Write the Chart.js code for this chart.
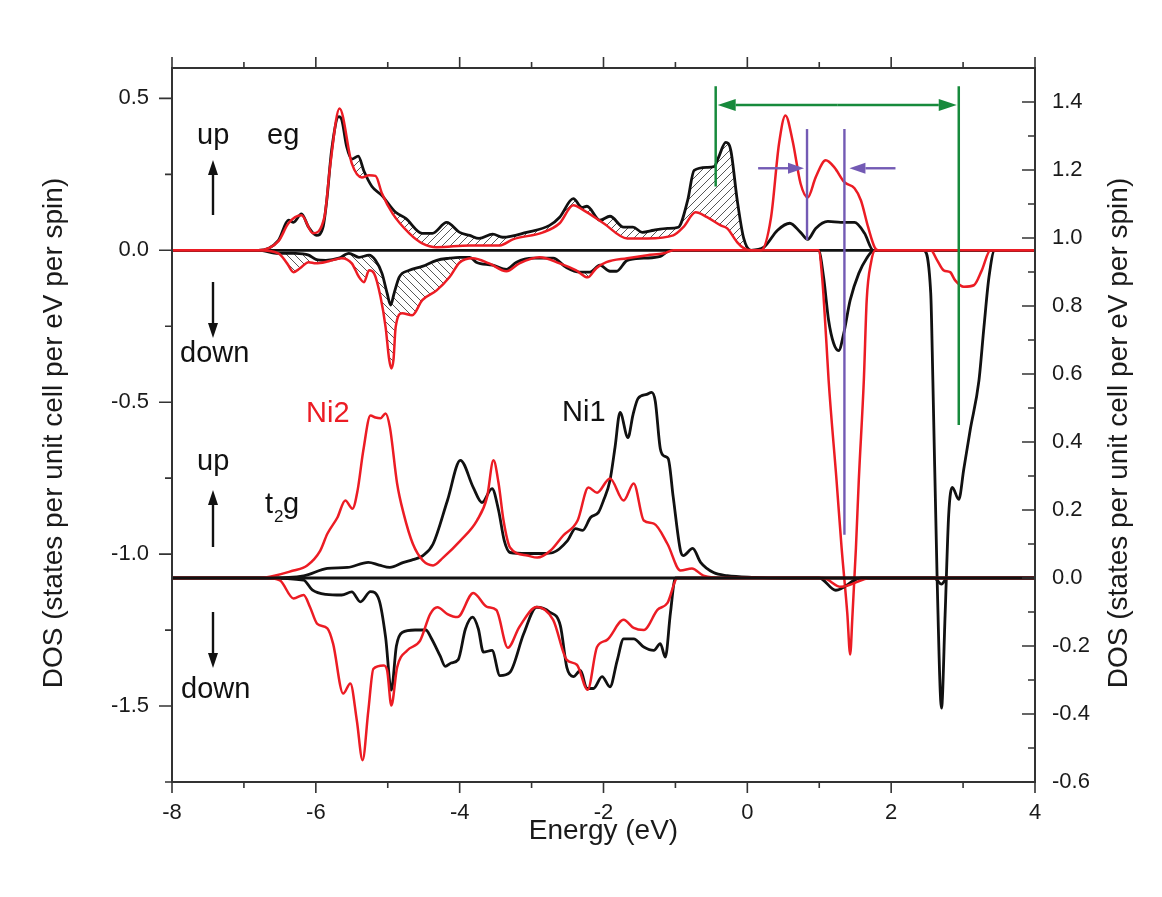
<!DOCTYPE html>
<html lang="en">
<head>
<meta charset="utf-8">
<title>Ni eg / t2g DOS</title>
<script src="https://cdn.jsdelivr.net/npm/chart.js@4.4.1/dist/chart.umd.min.js"></script>
<style>
  html, body { margin: 0; padding: 0; background: #fff; }
  #chartDos { display: block; }
</style>
</head>
<body>
<canvas id="chartDos" width="1162" height="897"></canvas>
<script>
// [energy (eV), DOS] pairs
// eg block -> left axis, t2g block -> right axis
const egUpNi1 = [[-8,0],[-6.8,0],[-6.52,0.033],[-6.38,0.099],[-6.31,0.092],[-6.2,0.12],[-6.1,0.076],[-5.99,0.049],[-5.9,0.076],[-5.85,0.16],[-5.78,0.33],[-5.68,0.44],[-5.64,0.43],[-5.57,0.34],[-5.5,0.30],[-5.41,0.31],[-5.33,0.26],[-5.22,0.21],[-5.08,0.18],[-4.89,0.125],[-4.75,0.105],[-4.52,0.056],[-4.38,0.056],[-4.18,0.092],[-4.0,0.059],[-3.86,0.049],[-3.73,0.039],[-3.54,0.053],[-3.4,0.043],[-3.07,0.059],[-2.75,0.082],[-2.61,0.109],[-2.42,0.17],[-2.3,0.141],[-2.23,0.145],[-2.05,0.099],[-1.91,0.112],[-1.72,0.076],[-1.59,0.076],[-1.46,0.059],[-1.3,0.066],[-1.11,0.072],[-0.96,0.076],[-0.83,0.164],[-0.74,0.263],[-0.56,0.273],[-0.46,0.276],[-0.4,0.306],[-0.3,0.355],[-0.23,0.329],[-0.14,0.164],[-0.05,0.039],[0.05,0],[0.23,0.01],[0.42,0.066],[0.59,0.089],[0.74,0.059],[0.84,0.036],[0.95,0.072],[1.12,0.095],[1.3,0.092],[1.49,0.092],[1.63,0.056],[1.75,0],[4,0]];
const egUpNi2 = [[-8,0],[-6.8,0],[-6.52,0.03],[-6.38,0.089],[-6.2,0.115],[-6.04,0.056],[-5.88,0.11],[-5.8,0.28],[-5.67,0.467],[-5.5,0.286],[-5.36,0.24],[-5.26,0.247],[-5.17,0.245],[-5.08,0.187],[-4.93,0.12],[-4.7,0.056],[-4.52,0.023],[-4.32,0.01],[-3.86,0.016],[-3.44,0.016],[-3.26,0.036],[-2.84,0.059],[-2.61,0.089],[-2.42,0.148],[-2.28,0.132],[-2.0,0.089],[-1.67,0.039],[-1.39,0.039],[-1.03,0.049],[-0.89,0.076],[-0.72,0.125],[-0.56,0.109],[-0.37,0.082],[-0.28,0.072],[-0.14,0.026],[-0.05,0.007],[0.05,0],[0.19,0],[0.33,0.109],[0.44,0.35],[0.53,0.444],[0.63,0.36],[0.74,0.22],[0.84,0.174],[0.95,0.24],[1.09,0.296],[1.21,0.273],[1.35,0.224],[1.49,0.204],[1.58,0.164],[1.68,0.076],[1.77,0.01],[1.82,0],[4,0]];
// spin down, occupied part (hatched between Ni1 and Ni2)
const egDnNi1Occ = [[-8,0],[-6.8,0],[-6.52,-0.01],[-6.28,-0.01],[-6.1,-0.016],[-6.0,-0.03],[-5.86,-0.033],[-5.68,-0.026],[-5.54,-0.01],[-5.4,-0.023],[-5.26,-0.016],[-5.17,-0.033],[-5.08,-0.076],[-5.01,-0.14],[-4.96,-0.18],[-4.91,-0.14],[-4.84,-0.088],[-4.7,-0.066],[-4.52,-0.053],[-4.32,-0.033],[-4.14,-0.026],[-4.0,-0.023],[-3.86,-0.023],[-3.77,-0.039],[-3.54,-0.049],[-3.35,-0.063],[-3.21,-0.039],[-2.98,-0.026],[-2.7,-0.026],[-2.52,-0.056],[-2.33,-0.072],[-2.19,-0.072],[-2.05,-0.049],[-1.91,-0.069],[-1.82,-0.069],[-1.67,-0.033],[-1.44,-0.026],[-1.21,-0.02],[-1.07,0],[0.2,0]];
const egDnNi2Occ = [[-8,0],[-6.8,0],[-6.52,-0.01],[-6.4,-0.043],[-6.31,-0.072],[-6.22,-0.059],[-6.1,-0.039],[-6.0,-0.043],[-5.82,-0.036],[-5.64,-0.026],[-5.5,-0.043],[-5.4,-0.088],[-5.33,-0.105],[-5.26,-0.066],[-5.19,-0.076],[-5.1,-0.154],[-5.03,-0.253],[-4.98,-0.36],[-4.95,-0.389],[-4.92,-0.36],[-4.89,-0.253],[-4.8,-0.207],[-4.66,-0.214],[-4.52,-0.164],[-4.32,-0.132],[-4.14,-0.088],[-4.0,-0.04],[-3.82,-0.026],[-3.59,-0.043],[-3.35,-0.069],[-3.17,-0.043],[-2.89,-0.023],[-2.61,-0.043],[-2.38,-0.066],[-2.22,-0.089],[-2.1,-0.059],[-1.96,-0.039],[-1.67,-0.026],[-1.39,-0.016],[-1.16,-0.01],[-1.03,0],[0.2,0]];
// spin down, empty part
const egDnNi1Emp = [[0.2,0],[0.99,0],[1.06,-0.088],[1.13,-0.23],[1.2,-0.306],[1.27,-0.33],[1.34,-0.274],[1.43,-0.164],[1.55,-0.076],[1.66,-0.026],[1.76,0],[2.45,0],[2.55,-0.14],[2.58,-0.43],[2.64,-1.09],[2.7,-1.507],[2.75,-1.2],[2.8,-0.87],[2.85,-0.78],[2.94,-0.82],[3.01,-0.72],[3.1,-0.59],[3.22,-0.43],[3.29,-0.253],[3.36,-0.088],[3.44,0],[4,0]];
const egDnNi2Emp = [[0.2,0],[0.99,0],[1.04,-0.088],[1.1,-0.306],[1.13,-0.427],[1.24,-0.756],[1.31,-0.977],[1.39,-1.195],[1.43,-1.33],[1.46,-1.21],[1.51,-0.98],[1.55,-0.756],[1.62,-0.427],[1.66,-0.163],[1.72,-0.04],[1.78,0],[2.55,0],[2.64,-0.033],[2.73,-0.066],[2.82,-0.072],[2.89,-0.099],[3.01,-0.12],[3.15,-0.115],[3.26,-0.066],[3.38,0],[4,0]];

const t2gUpNi1 = [[-8,0],[-6.66,0],[-6.17,0.006],[-5.84,0.028],[-5.56,0.031],[-5.27,0.046],[-5.12,0.038],[-4.97,0.031],[-4.78,0.046],[-4.65,0.054],[-4.51,0.066],[-4.37,0.1],[-4.17,0.228],[-3.99,0.346],[-3.81,0.266],[-3.69,0.222],[-3.55,0.263],[-3.46,0.2],[-3.38,0.11],[-3.3,0.075],[-3.06,0.072],[-2.84,0.072],[-2.7,0.075],[-2.5,0.11],[-2.39,0.145],[-2.29,0.14],[-2.18,0.178],[-2.07,0.193],[-2.0,0.228],[-1.91,0.287],[-1.84,0.384],[-1.77,0.487],[-1.66,0.413],[-1.59,0.48],[-1.52,0.528],[-1.4,0.54],[-1.33,0.546],[-1.28,0.52],[-1.21,0.38],[-1.15,0.358],[-1.1,0.351],[-1.03,0.237],[-0.93,0.081],[-0.89,0.066],[-0.76,0.087],[-0.65,0.046],[-0.47,0.016],[-0.28,0.007],[0.1,0.002],[0.5,0],[4,0]];
const t2gUpNi2 = [[-8,0],[-6.8,0],[-6.31,0.022],[-6.12,0.037],[-5.94,0.08],[-5.84,0.13],[-5.7,0.178],[-5.59,0.228],[-5.49,0.204],[-5.42,0.257],[-5.34,0.375],[-5.24,0.478],[-5.17,0.472],[-5.1,0.47],[-5.03,0.484],[-4.97,0.443],[-4.87,0.278],[-4.78,0.19],[-4.65,0.1],[-4.51,0.051],[-4.37,0.037],[-4.23,0.06],[-3.99,0.11],[-3.76,0.169],[-3.62,0.237],[-3.53,0.346],[-3.46,0.28],[-3.39,0.169],[-3.3,0.09],[-3.06,0.066],[-2.92,0.06],[-2.74,0.08],[-2.56,0.125],[-2.36,0.169],[-2.21,0.266],[-2.09,0.251],[-1.91,0.293],[-1.72,0.228],[-1.58,0.278],[-1.44,0.169],[-1.3,0.16],[-1.11,0.1],[-0.93,0.022],[-0.77,0.028],[-0.61,0.007],[-0.3,0],[4,0]];
const t2gDnNi1 = [[-8,0],[-6.7,0],[-6.17,-0.006],[-6.05,-0.035],[-5.86,-0.048],[-5.64,-0.05],[-5.5,-0.041],[-5.38,-0.07],[-5.24,-0.04],[-5.12,-0.065],[-5.03,-0.174],[-4.95,-0.33],[-4.88,-0.2],[-4.8,-0.16],[-4.62,-0.153],[-4.47,-0.153],[-4.4,-0.175],[-4.27,-0.23],[-4.2,-0.26],[-4.12,-0.25],[-4.02,-0.24],[-3.92,-0.15],[-3.82,-0.115],[-3.74,-0.15],[-3.67,-0.218],[-3.55,-0.213],[-3.44,-0.287],[-3.3,-0.277],[-3.11,-0.164],[-2.93,-0.086],[-2.75,-0.1],[-2.6,-0.14],[-2.51,-0.263],[-2.42,-0.29],[-2.32,-0.272],[-2.23,-0.325],[-2.14,-0.325],[-2.02,-0.29],[-1.91,-0.32],[-1.81,-0.243],[-1.72,-0.179],[-1.58,-0.179],[-1.44,-0.203],[-1.3,-0.213],[-1.21,-0.193],[-1.14,-0.233],[-1.07,-0.104],[-1.0,0],[1.0,0],[1.23,-0.036],[1.58,0],[2.6,0],[2.7,-0.018],[2.78,0],[4,0]];
const t2gDnNi2 = [[-8,0],[-6.7,0],[-6.5,-0.007],[-6.31,-0.06],[-6.17,-0.05],[-6.08,-0.086],[-5.98,-0.135],[-5.84,-0.148],[-5.76,-0.193],[-5.62,-0.34],[-5.52,-0.31],[-5.43,-0.419],[-5.35,-0.536],[-5.27,-0.39],[-5.2,-0.267],[-5.06,-0.257],[-5.01,-0.27],[-4.95,-0.375],[-4.87,-0.263],[-4.73,-0.213],[-4.55,-0.184],[-4.41,-0.106],[-4.31,-0.086],[-4.17,-0.106],[-4.03,-0.115],[-3.81,-0.044],[-3.62,-0.085],[-3.49,-0.094],[-3.33,-0.205],[-3.17,-0.144],[-2.93,-0.085],[-2.7,-0.123],[-2.51,-0.241],[-2.37,-0.255],[-2.22,-0.329],[-2.09,-0.203],[-1.95,-0.182],[-1.72,-0.123],[-1.58,-0.147],[-1.44,-0.153],[-1.25,-0.094],[-1.11,-0.073],[-0.97,0],[1.05,0],[1.3,-0.026],[1.72,0],[4,0]];
const baseline = [[-8,0],[4,0]];

// gap markers (eV)
const greenGap = [-0.44, 2.94];
const purpleGap = [0.83, 1.35];

const FONT = '"Liberation Sans", Arial, sans-serif';
const INK = '#111111', RED = '#ec1c24', GREEN = '#178a3c', PURPLE = '#735ab4', AXIS = '#333333';

Chart.defaults.font.family = FONT;

const canvas = document.getElementById('chartDos');
const ctx0 = canvas.getContext('2d');

// diagonal hatch used between the Ni1 and Ni2 eg curves
function hatch(dir){
  const n = 8;
  const c = document.createElement('canvas');
  c.width = c.height = n;
  const g = c.getContext('2d');
  g.strokeStyle = '#444'; g.lineWidth = 0.9;
  g.beginPath();
  if (dir > 0) { g.moveTo(0,n); g.lineTo(n,0); g.moveTo(-1,1); g.lineTo(1,-1); g.moveTo(n-1,n+1); g.lineTo(n+1,n-1); }
  else { g.moveTo(0,0); g.lineTo(n,n); g.moveTo(-1,n-1); g.lineTo(1,n+1); g.moveTo(n-1,-1); g.lineTo(n+1,1); }
  g.stroke();
  return ctx0.createPattern(c, 'repeat');
}

const pts = arr => arr.map(([x, y]) => ({x, y}));
function curve(label, arr, color, axis, order, extra){
  return Object.assign({
    label, data: pts(arr), borderColor: color, borderWidth: color === RED ? 2.5 : 2.8,
    yAxisID: axis, order, pointRadius: 0, fill: false, cubicInterpolationMode: 'monotone'
  }, extra || {});
}

const clear = 'rgba(0,0,0,0)';
const datasets = [
  curve('eg up Ni1', egUpNi1, INK, 'y', 4, { fill: { target: 1, above: hatch(1), below: clear } }),
  curve('eg up Ni2', egUpNi2, RED, 'y', 3),
  curve('eg dn Ni1', egDnNi1Occ, INK, 'y', 4, { fill: { target: 3, above: hatch(-1), below: clear } }),
  curve('eg dn Ni2', egDnNi2Occ, RED, 'y', 3),
  curve('eg dn Ni1 empty', egDnNi1Emp, INK, 'y', 4),
  curve('eg dn Ni2 empty', egDnNi2Emp, RED, 'y', 3),
  curve('eg zero', baseline, INK, 'y', 6),
  curve('t2g up Ni1', t2gUpNi1, INK, 'y2', 2),
  curve('t2g up Ni2', t2gUpNi2, RED, 'y2', 1),
  curve('t2g dn Ni1', t2gDnNi1, INK, 'y2', 2),
  curve('t2g dn Ni2', t2gDnNi2, RED, 'y2', 1),
  curve('t2g zero', baseline, INK, 'y2', 0)
];

const isMult = (v, s) => Math.abs(v / s - Math.round(v / s)) < 1e-6;

function arrow(ctx, x1, y1, x2, y2, head, half){
  const a = Math.atan2(y2 - y1, x2 - x1);
  const bx = x2 - head * Math.cos(a), by = y2 - head * Math.sin(a);
  ctx.beginPath(); ctx.moveTo(x1, y1); ctx.lineTo(bx, by); ctx.stroke();
  ctx.beginPath(); ctx.moveTo(x2, y2);
  ctx.lineTo(bx + half * Math.sin(a), by - half * Math.cos(a));
  ctx.lineTo(bx - half * Math.sin(a), by + half * Math.cos(a));
  ctx.closePath(); ctx.fill();
}
function vline(ctx, x, y1, y2){ ctx.beginPath(); ctx.moveTo(x, y1); ctx.lineTo(x, y2); ctx.stroke(); }

const decor = {
  id: 'decor',
  afterDatasetsDraw(chart){
    const {ctx, scales: {x, y}} = chart;
    ctx.save();
    ctx.lineCap = 'butt';
    // band gap (green)
    ctx.strokeStyle = ctx.fillStyle = GREEN; ctx.lineWidth = 2.5;
    const g0 = x.getPixelForValue(greenGap[0]), g1 = x.getPixelForValue(greenGap[1]);
    vline(ctx, g0, y.getPixelForValue(0.54), y.getPixelForValue(0.21));
    vline(ctx, g1, y.getPixelForValue(0.54), y.getPixelForValue(-0.575));
    const gy = y.getPixelForValue(0.478), gm = (g0 + g1) / 2;
    arrow(ctx, gm, gy, g0 + 2, gy, 18, 6);
    arrow(ctx, gm, gy, g1 - 2, gy, 18, 6);
    // Ni2 splitting (purple)
    ctx.strokeStyle = ctx.fillStyle = PURPLE; ctx.lineWidth = 2.4;
    const p0 = x.getPixelForValue(purpleGap[0]), p1 = x.getPixelForValue(purpleGap[1]);
    vline(ctx, p0, y.getPixelForValue(0.399), y.getPixelForValue(0.034));
    vline(ctx, p1, y.getPixelForValue(0.399), y.getPixelForValue(-0.936));
    const py = y.getPixelForValue(0.27);
    arrow(ctx, x.getPixelForValue(0.15), py, p0 - 3, py, 16, 5.5);
    arrow(ctx, x.getPixelForValue(2.06), py, p1 + 5, py, 16, 5.5);
    ctx.restore();
  },
  afterDraw(chart){
    const {ctx, chartArea: a, scales: {x, y, y2}} = chart;
    ctx.save();
    // frame
    ctx.strokeStyle = AXIS; ctx.lineWidth = 2;
    ctx.strokeRect(a.left, a.top, a.right - a.left, a.bottom - a.top);
    // ticks
    ctx.lineWidth = 1.6;
    ctx.beginPath();
    x.ticks.forEach(t => {
      const px = x.getPixelForValue(t.value), len = isMult(t.value, 2) ? 11 : 6;
      ctx.moveTo(px, a.bottom); ctx.lineTo(px, a.bottom + len);
      ctx.moveTo(px, a.top); ctx.lineTo(px, a.top - len);
    });
    y.ticks.forEach(t => {
      const py = y.getPixelForValue(t.value), len = isMult(t.value, 0.5) ? 13 : 7;
      ctx.moveTo(a.left, py); ctx.lineTo(a.left - len, py);
    });
    y2.ticks.forEach(t => {
      if (t.value >= y2.max) return;
      const py = y2.getPixelForValue(t.value), len = isMult(t.value, 0.2) ? 13 : 7;
      ctx.moveTo(a.right, py); ctx.lineTo(a.right - len, py);
    });
    ctx.stroke();

    // spin arrows
    ctx.strokeStyle = ctx.fillStyle = INK; ctx.lineWidth = 2.4;
    arrow(ctx, 213, 215, 213, 160, 15, 5);
    arrow(ctx, 213, 282, 213, 338, 15, 5);
    arrow(ctx, 213, 547, 213, 490, 15, 5);
    arrow(ctx, 213, 612, 213, 668, 15, 5);

    // labels
    ctx.textBaseline = 'alphabetic'; ctx.textAlign = 'left';
    ctx.font = '29px ' + FONT;
    ctx.fillText('up', 197, 144);
    ctx.fillText('eg', 267, 144);
    ctx.fillText('down', 180, 362);
    ctx.fillText('up', 197, 470);
    ctx.fillText('down', 181, 698);
    ctx.fillText('Ni1', 562, 421);
    ctx.fillText('t', 265, 513);
    ctx.fillText('g', 283, 513);
    ctx.font = '17px ' + FONT;
    ctx.fillText('2', 274, 522);
    ctx.font = '29px ' + FONT;
    ctx.fillStyle = RED;
    ctx.fillText('Ni2', 306, 422);

    // vertical axis titles (both read bottom to top)
    ctx.fillStyle = '#1a1a1a';
    ctx.font = '28px ' + FONT;
    ctx.textAlign = 'center'; ctx.textBaseline = 'middle';
    const title = 'DOS (states per unit cell per eV per spin)';
    [54, 1119].forEach(tx => {
      ctx.save(); ctx.translate(tx, 433); ctx.rotate(-Math.PI / 2);
      ctx.fillText(title, 0, 0); ctx.restore();
    });
    ctx.restore();
  }
};

const tickFont = { family: FONT, size: 22 };
const chartDos = new Chart(ctx0, {
  type: 'line',
  data: { datasets },
  options: {
    responsive: false,
    animation: false,
    layout: { padding: { top: 68, left: 0, right: 0, bottom: 0 } },
    plugins: { legend: { display: false }, tooltip: { enabled: false } },
    elements: { point: { radius: 0 }, line: { borderJoinStyle: 'round' } },
    scales: {
      x: {
        type: 'linear', min: -8, max: 4,
        ticks: { stepSize: 1, autoSkip: false, maxRotation: 0, padding: 18, font: tickFont, color: '#1a1a1a',
          callback: v => isMult(v, 2) ? String(v) : '' },
        grid: { display: false, drawTicks: false },
        border: { display: false },
        title: { display: true, text: 'Energy (eV)', color: '#1a1a1a', font: { family: FONT, size: 28 },
          padding: { top: 0, bottom: 49 } },
        afterFit: s => { s.height = 115; }
      },
      y: {
        position: 'left', min: -1.75, max: 0.6,
        ticks: { stepSize: 0.25, includeBounds: false, padding: 23, font: tickFont, color: '#1a1a1a',
          callback: v => isMult(v, 0.5) ? v.toFixed(1) : '' },
        grid: { display: false, drawTicks: false },
        border: { display: false },
        afterFit: s => { s.width = 172; }
      },
      y2: {
        position: 'right', min: -0.6, max: 1.5,
        ticks: { stepSize: 0.1, includeBounds: false, padding: 17, font: tickFont, color: '#1a1a1a',
          callback: v => isMult(v, 0.2) ? v.toFixed(1) : '' },
        grid: { display: false, drawTicks: false },
        border: { display: false },
        afterFit: s => { s.width = 127; }
      }
    }
  },
  plugins: [decor]
});
</script>
</body>
</html>
